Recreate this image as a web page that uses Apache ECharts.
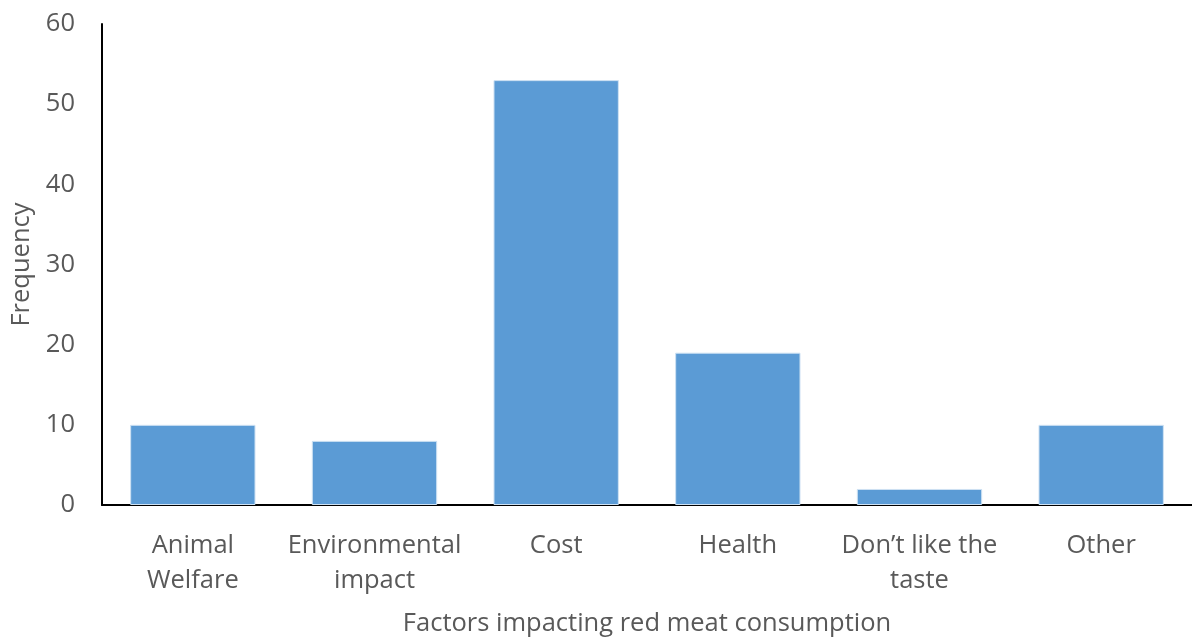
<!DOCTYPE html>
<html>
<head>
<meta charset="utf-8">
<script src="https://cdn.jsdelivr.net/npm/echarts@6/dist/echarts.min.js"></script>
<style>
  html, body { margin: 0; padding: 0; background: #fff; }
  #chart { width: 1192px; height: 638px; }
</style>
</head>
<body>
<div id="chart"></div>
<script>
const categories = ['Animal\nWelfare', 'Environmental\nimpact', 'Cost', 'Health', 'Don\u2019t like the\ntaste', 'Other'];
const frequency = [10, 8, 53, 19, 2, 10];
const yTicks = { min: 0, max: 60, interval: 10 };

const font = '"Open Sans", "Noto Sans", sans-serif';
const textColor = '#595959';

const chart = echarts.init(document.getElementById('chart'));
chart.setOption({
    animation: false,
    grid: { left: 102, right: 0, top: 24, bottom: 133, outerBoundsMode: 'none', containLabel: false },
    xAxis: {
        type: 'category',
        data: categories,
        name: 'Factors impacting red meat consumption',
        nameLocation: 'middle',
        nameGap: 106,
        nameTextStyle: { fontFamily: font, fontSize: 25.5, color: textColor },
        axisLine: { lineStyle: { color: '#000', width: 2 } },
        axisTick: { show: false },
        axisLabel: { fontFamily: font, fontSize: 25.5, color: textColor, margin: 23, lineHeight: 35, interval: 0 }
    },
    yAxis: {
        type: 'value',
        min: yTicks.min,
        max: yTicks.max,
        interval: yTicks.interval,
        name: 'Frequency',
        nameLocation: 'middle',
        nameGap: 64,
        nameTextStyle: { fontFamily: font, fontSize: 25.5, color: textColor },
        axisLine: { show: true, lineStyle: { color: '#000', width: 2 } },
        axisTick: { show: false },
        splitLine: { show: false },
        axisLabel: { fontFamily: font, fontSize: 25.5, color: textColor, margin: 27 }
    },
    series: [{
        type: 'bar',
        data: frequency,
        barCategoryGap: '31%',
        itemStyle: { color: '#5b9bd5', borderColor: '#cfe2f3', borderWidth: 1 }
    }]
});
</script>
</body>
</html>
